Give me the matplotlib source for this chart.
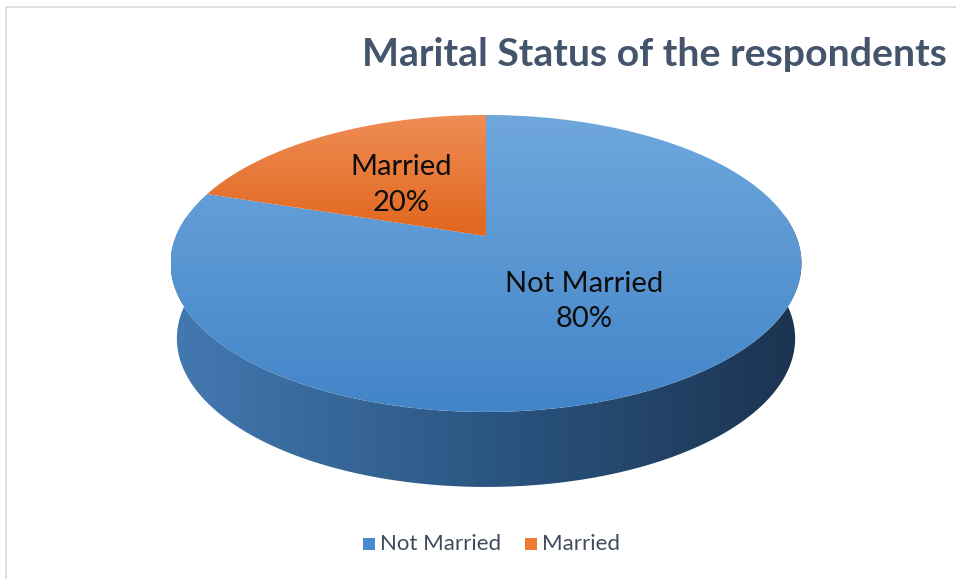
import matplotlib
matplotlib.use("Agg")
import matplotlib.pyplot as plt
import numpy as np
from matplotlib.patches import Polygon, Rectangle
from matplotlib.colors import LinearSegmentedColormap

# data
categories = ["Not Married", "Married"]
values = [80, 20]
title = "Marital Status of the respondents"

# colours (top gradient light -> dark)
top_colors = [("#6fa7dd", "#4285c8"), ("#ef8d55", "#e1661d")]
side_colors = ["#4479b1", "#2b5682", "#1b3350"]
legend_colors = ["#4a8ad0", "#ef7a31"]

# pie geometry in pixel space
cx, cy = 486, 236
A, B = 310, 143.4
p = 0.185
depth = 75


def project(u, v, dz=0.0, shrink=1.0):
    s = 1.0 / (1.0 + p * v)
    return cx + A * shrink * u * s, cy - B * v * s + dz


def gradient_fill(ax, patch, c1, c2, horizontal=False):
    ax.add_patch(patch)
    cmap = LinearSegmentedColormap.from_list("g", [c1, c2] if isinstance(c2, str) else [c1] + list(c2))
    verts = patch.get_xy()
    x0, x1 = verts[:, 0].min(), verts[:, 0].max()
    y0, y1 = verts[:, 1].min(), verts[:, 1].max()
    if horizontal:
        grad = np.linspace(0, 1, 256).reshape(1, -1)
    else:
        grad = np.linspace(0, 1, 256).reshape(-1, 1)
    im = ax.imshow(grad, cmap=cmap, extent=(x0, x1, y1, y0), aspect="auto",
                   interpolation="bicubic", zorder=patch.get_zorder())
    im.set_clip_path(patch)


fig = plt.figure(figsize=(9.56, 5.79), dpi=100)
ax = fig.add_axes([0, 0, 1, 1])
ax.set_xlim(0, 956)
ax.set_ylim(579, 0)
ax.axis("off")

# chart border
ax.add_patch(Rectangle((6.5, 6.5), 1000, 1000, fill=False, edgecolor="#d9d9d9", lw=1.2, zorder=0))

# angles: first slice starts at 12 o'clock and goes clockwise
fracs = np.array(values) / sum(values)
starts = 90 - 360 * np.concatenate([[0], np.cumsum(fracs)[:-1]])
ends = starts - 360 * fracs

# side wall (front half, visible)
phi = np.radians(np.linspace(172, 368, 200))
tx, ty = project(np.cos(phi), np.sin(phi))
bx, by = project(np.cos(phi), np.sin(phi), dz=depth, shrink=0.98)
side_pts = np.column_stack([np.concatenate([tx, bx[::-1]]), np.concatenate([ty, by[::-1]])])
side = Polygon(side_pts, closed=True, facecolor="none", edgecolor="none", zorder=1)
gradient_fill(ax, side, side_colors[0], side_colors[1:], horizontal=True)

# top faces
for i, (st, en) in enumerate(zip(starts, ends)):
    ang = np.radians(np.linspace(st, en, 200))
    ux, uy = project(np.cos(ang), np.sin(ang))
    pts = np.column_stack([np.concatenate([[cx], ux]), np.concatenate([[cy], uy])])
    face = Polygon(pts, closed=True, facecolor="none", edgecolor="none", zorder=2 + i)
    gradient_fill(ax, face, top_colors[i][0], top_colors[i][1])

# data labels
for i, (st, en) in enumerate(zip(starts, ends)):
    mid = np.radians((st + en) / 2)
    lx, ly = project(0.5 * np.cos(mid), 0.5 * np.sin(mid))
    ax.text(lx, ly + 3, f"{categories[i]}\n{values[i]}%", ha="center", va="center",
            fontsize=21, family="Lato", color="#0d0d0d", linespacing=1.45, zorder=10)

# title
ax.text(362, 55, title, ha="left", va="center", fontsize=28.3, family="Lato",
        fontweight="bold", color="#44546a", zorder=10)

# legend
lx = 363
for i, name in enumerate(categories):
    ax.add_patch(Rectangle((lx, 538), 12, 12, facecolor=legend_colors[i], edgecolor="none"))
    ax.text(lx + 17, 544.5, name, ha="left", va="center", fontsize=16, family="Lato",
            color="#404a5a")
    lx = 525

fig.savefig("out.png", dpi=100)
